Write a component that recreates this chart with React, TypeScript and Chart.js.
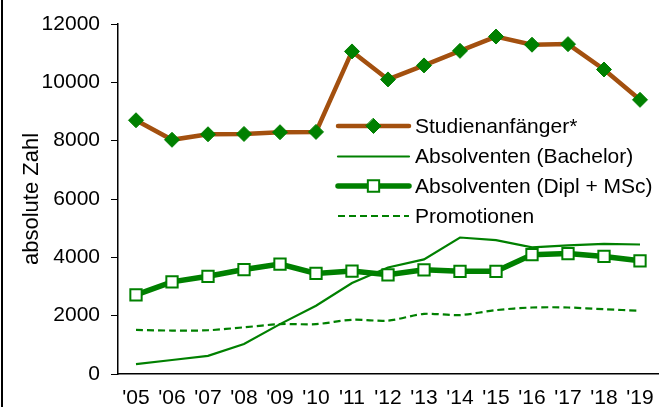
import React, { useEffect, useRef } from "react";
import { Chart, registerables } from "chart.js";

Chart.register(...registerables);

const years = ["'05", "'06", "'07", "'08", "'09", "'10", "'11", "'12", "'13", "'14", "'15", "'16", "'17", "'18", "'19"];
const studienanfaenger = [8700, 8030, 8220, 8230, 8290, 8300, 11060, 10100, 10580, 11080, 11570, 11290, 11310, 10440, 9400];
const bachelor = [340, 480, 620, 1030, 1710, 2340, 3120, 3650, 3930, 4680, 4590, 4340, 4410, 4460, 4440];
const diplMsc = [2710, 3160, 3350, 3580, 3770, 3450, 3530, 3400, 3570, 3520, 3520, 4090, 4130, 4030, 3880];
const promotionen = [1510, 1490, 1500, 1600, 1710, 1710, 1860, 1830, 2060, 2020, 2190, 2280, 2280, 2220, 2170];
const seriesLabels = ["Studienanfänger*", "Absolventen (Bachelor)", "Absolventen (Dipl + MSc)", "Promotionen"];
const yMin = 0;
const yMax = 12000;
const yStep = 2000;
const yTitle = "absolute Zahl";

const BROWN = "#A3500F";
const GREEN = "#008000";
const FONT = "'Liberation Sans', Arial, sans-serif";

const legendPlugin = {
  id: "insideLegend",
  afterDraw(chart: any) {
    const ctx = chart.ctx;
    const x0 = 338;
    const x1 = 409;
    const tx = 415;
    const rows = [126, 156.5, 186, 216];
    chart.data.datasets.forEach((ds: any, i: number) => {
      const y = rows[i];
      ctx.save();
      ctx.strokeStyle = ds.borderColor;
      ctx.lineWidth = ds.borderWidth;
      ctx.lineCap = ds.borderDash && ds.borderDash.length ? "butt" : "round";
      ctx.setLineDash(ds.borderDash || []);
      ctx.beginPath();
      ctx.moveTo(x0, y);
      ctx.lineTo(x1, y);
      ctx.stroke();
      ctx.setLineDash([]);
      if (ds.pointRadius > 0) {
        const cx = (x0 + x1) / 2;
        ctx.fillStyle = ds.pointBackgroundColor;
        ctx.strokeStyle = ds.pointBorderColor;
        ctx.lineWidth = ds.pointBorderWidth;
        ctx.beginPath();
        if (ds.pointStyle === "rectRot") {
          const r = ds.pointRadius;
          ctx.moveTo(cx, y - r);
          ctx.lineTo(cx + r, y);
          ctx.lineTo(cx, y + r);
          ctx.lineTo(cx - r, y);
          ctx.closePath();
        } else {
          const s = Math.SQRT1_2 * ds.pointRadius;
          ctx.rect(cx - s, y - s, 2 * s, 2 * s);
        }
        ctx.fill();
        ctx.stroke();
      }
      ctx.fillStyle = "#000";
      ctx.font = `21px ${FONT}`;
      ctx.textBaseline = "middle";
      ctx.textAlign = "left";
      ctx.fillText(ds.label, tx, y + 1);
      ctx.restore();
    });
  },
};

export default function App() {
  const ref = useRef<HTMLCanvasElement | null>(null);
  useEffect(() => {
    document.body.style.margin = "0";
    const canvas = ref.current;
    if (!canvas) return;
    const chart = new Chart(canvas, {
      type: "line",
      data: {
        labels: years,
        datasets: [
          {
            label: seriesLabels[0],
            data: studienanfaenger,
            borderColor: BROWN,
            borderWidth: 4.5,
            pointStyle: "rectRot",
            pointRadius: 7.5,
            pointBackgroundColor: GREEN,
            pointBorderColor: GREEN,
            pointBorderWidth: 1,
            tension: 0,
            order: 0,
          },
          {
            label: seriesLabels[1],
            data: bachelor,
            borderColor: GREEN,
            borderWidth: 2.2,
            pointRadius: 0,
            tension: 0,
            order: 2,
          },
          {
            label: seriesLabels[2],
            data: diplMsc,
            borderColor: GREEN,
            borderWidth: 5.5,
            pointStyle: "rect",
            pointRadius: 8,
            pointBackgroundColor: "#ffffff",
            pointBorderColor: GREEN,
            pointBorderWidth: 2,
            tension: 0,
            order: 1,
          },
          {
            label: seriesLabels[3],
            data: promotionen,
            borderColor: GREEN,
            borderWidth: 2.2,
            borderDash: [7, 4],
            pointRadius: 0,
            tension: 0.3,
            order: 3,
          },
        ],
      },
      options: {
        animation: false,
        responsive: true,
        maintainAspectRatio: false,
        layout: { padding: { top: 24, right: 5, bottom: 0, left: 0 } },
        plugins: {
          legend: { display: false },
          tooltip: { enabled: false },
        },
        scales: {
          x: {
            offset: true,
            grid: { display: false, drawTicks: false },
            border: { display: true, color: "#000", width: 1.5 },
            ticks: {
              color: "#000",
              font: { family: FONT, size: 21 },
              padding: 12,
              maxRotation: 0,
              autoSkip: false,
            },
            afterFit(scale: any) {
              scale.height = 33;
            },
          },
          y: {
            min: yMin,
            max: yMax,
            grid: { display: true, drawOnChartArea: false, drawTicks: true, tickLength: 7, color: "#000" },
            border: { display: true, color: "#000", width: 1.5 },
            ticks: {
              stepSize: yStep,
              color: "#000",
              font: { family: FONT, size: 21 },
              padding: 11,
              callback: (v: any) => String(v),
            },
            title: {
              display: true,
              text: yTitle,
              color: "#000",
              font: { family: FONT, size: 22 },
              padding: { top: 19, bottom: 0 },
            },
            afterFit(scale: any) {
              scale.width = 118;
            },
          },
        },
      },
      plugins: [legendPlugin],
    });
    return () => chart.destroy();
  }, []);

  return (
    <div style={{ position: "relative", width: 668, height: 407, background: "#fff", overflow: "hidden" }}>
      <div style={{ position: "absolute", left: 1, top: 0, width: 2, height: 407, background: "#000" }} />
      <canvas ref={ref} />
    </div>
  );
}
